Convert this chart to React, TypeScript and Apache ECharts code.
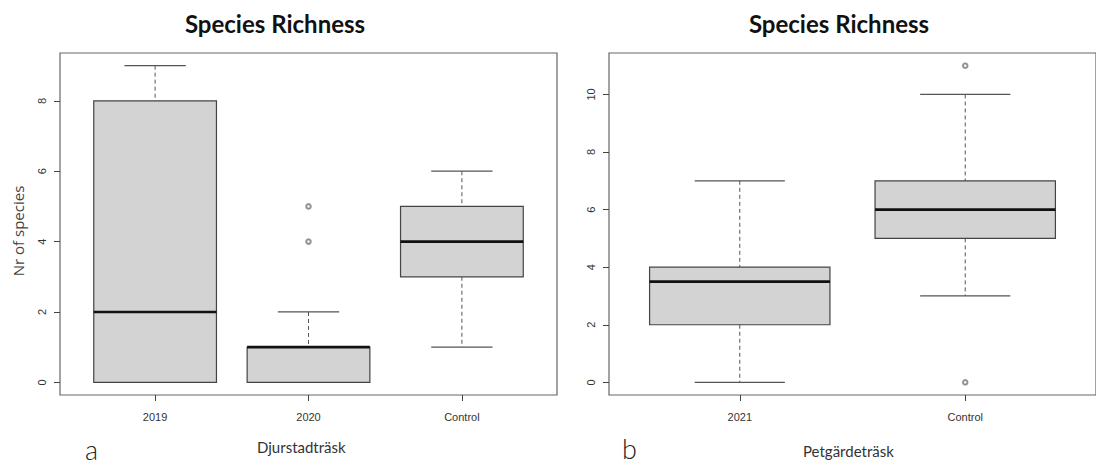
import React, { useEffect, useRef } from "react";
import * as echarts from "echarts";

// Djurstadträsk (panel a)
const leftCategories = ["2019", "2020", "Control"];
const leftMin = [0, 0, 1];
const leftQ1 = [0, 0, 3];
const leftMedian = [2, 1, 4];
const leftQ3 = [8, 1, 5];
const leftMax = [9, 2, 6];
const leftOutlierGroups = ["2020", "2020"];
const leftOutlierValues = [4, 5];
const leftYTicks = [0, 2, 4, 6, 8];

// Petgärdeträsk (panel b)
const rightCategories = ["2021", "Control"];
const rightMin = [0, 3];
const rightQ1 = [2, 5];
const rightMedian = [3.5, 6];
const rightQ3 = [4, 7];
const rightMax = [7, 10];
const rightOutlierGroups = ["Control", "Control"];
const rightOutlierValues = [11, 0];
const rightYTicks = [0, 2, 4, 6, 8, 10];

const BOX_FILL = "#d3d3d3";
const LINE = "#555";
const AXIS_TEXT = "#444";

function boxRows(cats: string[], mn: number[], q1: number[], md: number[], q3: number[], mx: number[]) {
  return cats.map((_, i) => [i + 1, mn[i], q1[i], md[i], q3[i], mx[i]]);
}

function outlierRows(cats: string[], groups: string[], values: number[]) {
  return groups.map((g, i) => [cats.indexOf(g) + 1, values[i]]);
}

// R-style box: dashed whiskers, solid staples, grey box, heavy median
function renderBox(params: any, api: any) {
  const x = api.value(0);
  const lo = api.value(1);
  const q1 = api.value(2);
  const med = api.value(3);
  const q3 = api.value(4);
  const hi = api.value(5);
  const halfBox = 0.4;
  const halfCap = 0.2;
  const c = (a: number, b: number) => api.coord([a, b]);
  const tl = c(x - halfBox, q3);
  const br = c(x + halfBox, q1);
  const mid = c(x, 0)[0];
  const children: any[] = [
    {
      type: "line",
      shape: { x1: mid, y1: c(x, hi)[1], x2: mid, y2: tl[1] },
      style: { stroke: LINE, lineWidth: 1, lineDash: [4, 3] },
    },
    {
      type: "line",
      shape: { x1: mid, y1: br[1], x2: mid, y2: c(x, lo)[1] },
      style: { stroke: LINE, lineWidth: 1, lineDash: [4, 3] },
    },
    {
      type: "line",
      shape: { x1: c(x - halfCap, hi)[0], y1: c(x, hi)[1], x2: c(x + halfCap, hi)[0], y2: c(x, hi)[1] },
      style: { stroke: LINE, lineWidth: 1.2 },
    },
    {
      type: "line",
      shape: { x1: c(x - halfCap, lo)[0], y1: c(x, lo)[1], x2: c(x + halfCap, lo)[0], y2: c(x, lo)[1] },
      style: { stroke: LINE, lineWidth: 1.2 },
    },
    {
      type: "rect",
      shape: { x: tl[0], y: tl[1], width: br[0] - tl[0], height: br[1] - tl[1] },
      style: { fill: BOX_FILL, stroke: "#444", lineWidth: 1.2 },
    },
    {
      type: "line",
      shape: { x1: tl[0], y1: c(x, med)[1], x2: br[0], y2: c(x, med)[1] },
      style: { stroke: "#111", lineWidth: 2.6 },
    },
  ];
  return { type: "group", children };
}

function xAxisFor(gridIndex: number, cats: string[], min: number, max: number) {
  const ticks = cats.map((_, i) => i + 1);
  return {
    type: "value",
    gridIndex,
    min,
    max,
    position: "bottom",
    axisLine: { show: false, onZero: false },
    splitLine: { show: false },
    axisTick: { show: true, inside: false, length: 6, customValues: ticks, lineStyle: { color: AXIS_TEXT } },
    axisLabel: {
      customValues: ticks,
      margin: 16,
      fontFamily: "Liberation Sans",
      fontSize: 11,
      color: "#333",
      formatter: (v: number) => cats[Math.round(v) - 1] ?? "",
    },
  };
}

function yAxisFor(gridIndex: number, ticks: number[], min: number, max: number) {
  return {
    type: "value",
    gridIndex,
    min,
    max,
    position: "left",
    axisLine: { show: false, onZero: false },
    splitLine: { show: false },
    axisTick: { show: true, inside: false, length: 6, customValues: ticks, lineStyle: { color: AXIS_TEXT } },
    axisLabel: {
      customValues: ticks,
      rotate: 90,
      margin: 13,
      fontFamily: "Liberation Sans",
      fontSize: 11,
      color: "#333",
    },
  };
}

export default function App() {
  const ref = useRef<HTMLDivElement>(null);

  useEffect(() => {
    document.body.style.margin = "0";
    if (!ref.current) return;
    const chart = echarts.init(ref.current, undefined, { renderer: "svg" });

    const frame = { show: true, borderColor: "#666", borderWidth: 1.2, backgroundColor: "transparent" };
    const outlierStyle = { color: "#777", borderWidth: 0.9 };

    chart.setOption({
      animation: false,
      backgroundColor: "#fff",
      grid: [
        { left: 60, top: 53, width: 497, height: 342, ...frame },
        { left: 609, top: 53, width: 495, height: 342, ...frame },
      ],
      xAxis: [xAxisFor(0, leftCategories, 0.38, 3.62), xAxisFor(1, rightCategories, 0.42, 2.58)],
      yAxis: [yAxisFor(0, leftYTicks, -0.36, 9.36), yAxisFor(1, rightYTicks, -0.44, 11.44)],
      series: [
        {
          type: "custom",
          name: "Djurstadträsk",
          xAxisIndex: 0,
          yAxisIndex: 0,
          renderItem: renderBox,
          encode: { x: 0, y: [1, 2, 3, 4, 5] },
          data: boxRows(leftCategories, leftMin, leftQ1, leftMedian, leftQ3, leftMax),
        },
        {
          type: "scatter",
          xAxisIndex: 0,
          yAxisIndex: 0,
          symbol: "emptyCircle",
          symbolSize: 4.5,
          itemStyle: outlierStyle,
          data: outlierRows(leftCategories, leftOutlierGroups, leftOutlierValues),
        },
        {
          type: "custom",
          name: "Petgärdeträsk",
          xAxisIndex: 1,
          yAxisIndex: 1,
          renderItem: renderBox,
          encode: { x: 0, y: [1, 2, 3, 4, 5] },
          data: boxRows(rightCategories, rightMin, rightQ1, rightMedian, rightQ3, rightMax),
        },
        {
          type: "scatter",
          xAxisIndex: 1,
          yAxisIndex: 1,
          symbol: "emptyCircle",
          symbolSize: 4.5,
          itemStyle: outlierStyle,
          data: outlierRows(rightCategories, rightOutlierGroups, rightOutlierValues),
        },
      ],
      graphic: [
        {
          type: "text",
          x: 275,
          y: 23,
          style: { text: "Species Richness", font: "bold 24px Lato", fill: "#111", align: "center", verticalAlign: "middle" },
        },
        {
          type: "text",
          x: 839,
          y: 23,
          style: { text: "Species Richness", font: "bold 24px Lato", fill: "#111", align: "center", verticalAlign: "middle" },
        },
        {
          type: "text",
          x: 18,
          y: 231,
          rotation: Math.PI / 2,
          style: { text: "Nr of species", font: "15px 'Open Sans'", fill: "#444", align: "center", verticalAlign: "middle" },
        },
        {
          type: "text",
          x: 85,
          y: 449,
          style: { text: "a", font: "300 27px Lato", fill: "#222", align: "left", verticalAlign: "middle" },
        },
        {
          type: "text",
          x: 257,
          y: 447,
          style: { text: "Djurstadträsk", font: "15px Lato", fill: "#333", align: "left", verticalAlign: "middle" },
        },
        {
          type: "text",
          x: 622,
          y: 448,
          style: { text: "b", font: "300 27px Lato", fill: "#222", align: "left", verticalAlign: "middle" },
        },
        {
          type: "text",
          x: 803,
          y: 451,
          style: { text: "Petgärdeträsk", font: "15px Lato", fill: "#333", align: "left", verticalAlign: "middle" },
        },
      ],
    });

    return () => chart.dispose();
  }, []);

  return <div ref={ref} style={{ width: 1096, height: 465 }} />;
}
